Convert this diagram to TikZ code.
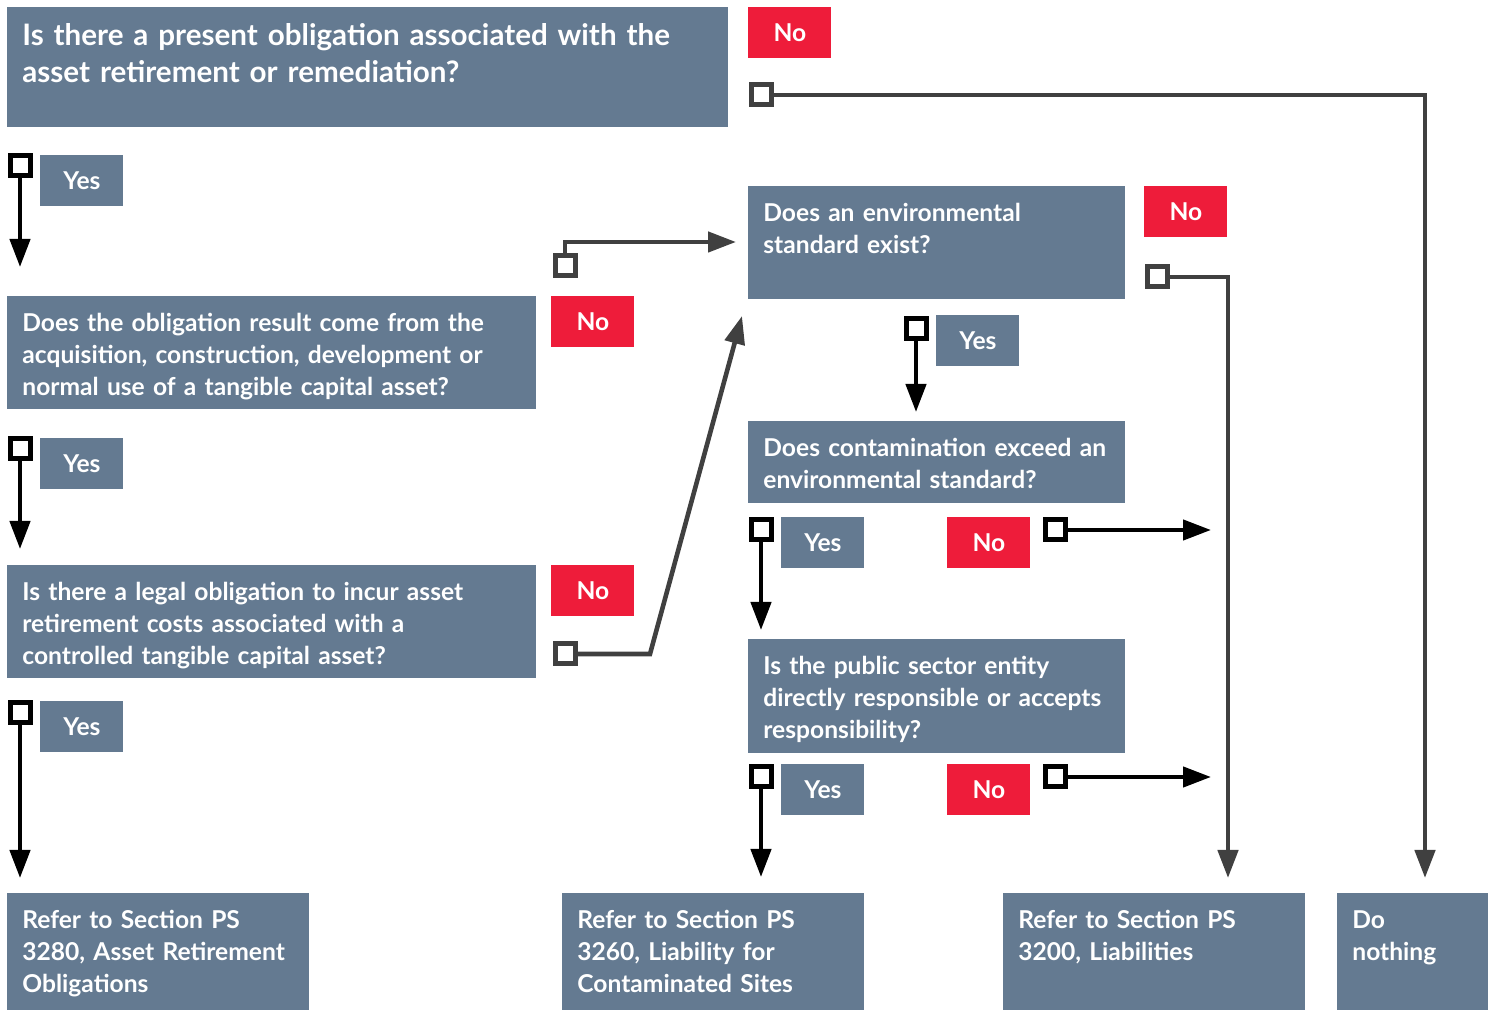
\documentclass[tikz,border=0pt]{standalone}
\usepackage{fontspec}
\setmainfont{Lato}
\usepackage{tikz}
\usetikzlibrary{arrows.meta,positioning}

\definecolor{slate}{RGB}{100,122,145}
\definecolor{alarm}{RGB}{238,28,58}
\definecolor{wire}{RGB}{64,64,64}

\tikzset{
  qbox/.style={fill=slate, text=white, anchor=north west, align=left,
    inner xsep=7.5pt, inner ysep=0pt, text height=17.5pt,
    font=\fontsize{12.3}{16}\selectfont\bfseries},
  yesbox/.style={fill=slate, text=white, anchor=north west, inner sep=0pt,
    minimum width=41.5pt, minimum height=25.5pt,
    font=\fontsize{12.3}{15}\selectfont\bfseries},
  nobox/.style={yesbox, fill=alarm},
  chk/.style={draw, line width=2.5pt, fill=white, minimum size=10pt, inner sep=0pt},
  ychk/.style={chk, draw=black},
  nchk/.style={chk, draw=wire},
  yesline/.style={black, line width=2.2pt, -{Triangle[width=10pt,length=14pt]}},
  noline/.style={wire, line width=2.3pt, line join=miter, -{Triangle[width=10pt,length=14pt]}},
}

\begin{document}
\begin{tikzpicture}[x=0.5pt, y=-0.5pt]
  \useasboundingbox (0,0) rectangle (1496,1010);

  % question boxes
  \node[qbox, text width=345.5pt, text height=19pt, text depth=41pt,
    font=\fontsize{14.8}{18.5}\selectfont\bfseries] (q1) at (7,7)
    {Is there a present obligation associated with the\\asset retirement or remediation?};
  \node[qbox, text width=249.5pt, text depth=39pt] (q2) at (7,296)
    {Does the obligation result come from the\\acquisition, construction, development or\\normal use of a tangible capital asset?};
  \node[qbox, text width=249.5pt, text depth=39pt] (q3) at (7,565)
    {Is there a legal obligation to incur asset\\retirement costs associated with a\\controlled tangible capital asset?};
  \node[qbox, text width=173.5pt, text depth=39pt] (env) at (748,186)
    {Does an environmental\\standard exist?};
  \node[qbox, text width=173.5pt, text depth=23.5pt] (cont) at (748,421)
    {Does contamination exceed an\\environmental standard?};
  \node[qbox, text width=173.5pt, text depth=39.5pt] (pub) at (748,639)
    {Is the public sector entity\\directly responsible or accepts\\responsibility?};

  % outcome boxes
  \node[qbox, text width=136pt, text depth=41pt] (r1) at (7,893)
    {Refer to Section PS\\3280, Asset Retirement\\Obligations};
  \node[qbox, text width=136pt, text depth=41pt] (r2) at (562,893)
    {Refer to Section PS\\3260, Liability for\\Contaminated Sites};
  \node[qbox, text width=136pt, text depth=41pt] (r3) at (1003,893)
    {Refer to Section PS\\3200, Liabilities};
  \node[qbox, text width=60.5pt, text depth=41pt] (r4) at (1337,893)
    {Do\\nothing};

  % yes / no tags
  \node[nobox] (no1) at (748,7) {No};
  \node[yesbox] (yes1) at (40,155) {Yes};
  \node[nobox] (no2) at (551,296) {No};
  \node[yesbox] (yes2) at (40,438) {Yes};
  \node[nobox] (no3) at (551,565) {No};
  \node[yesbox] (yes3) at (40,701) {Yes};
  \node[nobox] (noenv) at (1144,186) {No};
  \node[yesbox] (yesenv) at (936,315) {Yes};
  \node[yesbox] (yescont) at (781,517) {Yes};
  \node[nobox] (nocont) at (947,517) {No};
  \node[yesbox] (yespub) at (781,764) {Yes};
  \node[nobox] (nopub) at (947,764) {No};

  % arrow ends
  \coordinate (t1) at (1425,878);
  \coordinate (t2) at (20,267);
  \coordinate (t3) at (736,242);
  \coordinate (t4) at (20,549);
  \coordinate (b5) at (650,654);
  \coordinate (t5) at (742,316);
  \coordinate (t6) at (20,878);
  \coordinate (t7) at (1228,878);
  \coordinate (t8) at (916,412);
  \coordinate (t9) at (761,630);
  \coordinate (t10) at (1211,530);
  \coordinate (t11) at (761,877);
  \coordinate (t12) at (1211,777);

  % connectors
  \draw[noline] (761,95) -| (t1);
  \draw[yesline] (20,166) -- (t2);
  \draw[noline] (565,266) |- (t3);
  \draw[yesline] (20,449) -- (t4);
  \draw[noline] (565,654) -- (b5) -- (t5);
  \draw[yesline] (20,713) -- (t6);
  \draw[noline] (1157,277) -| (t7);
  \draw[yesline] (916,329) -- (t8);
  \draw[yesline] (761,530) -- (t9);
  \draw[yesline] (1055,530) -- (t10);
  \draw[yesline] (761,777) -- (t11);
  \draw[yesline] (1055,777) -- (t12);

  % check squares
  \node[nchk] (c1) at (761,95) {};
  \node[ychk] (c2) at (20,166) {};
  \node[nchk] (c3) at (565,266) {};
  \node[ychk] (c4) at (20,449) {};
  \node[nchk] (c5) at (565,654) {};
  \node[ychk] (c6) at (20,713) {};
  \node[nchk] (c7) at (1157,277) {};
  \node[ychk] (c8) at (916,329) {};
  \node[ychk] (c9) at (761,530) {};
  \node[ychk] (c10) at (1055,530) {};
  \node[ychk] (c11) at (761,777) {};
  \node[ychk] (c12) at (1055,777) {};
\end{tikzpicture}
\end{document}
